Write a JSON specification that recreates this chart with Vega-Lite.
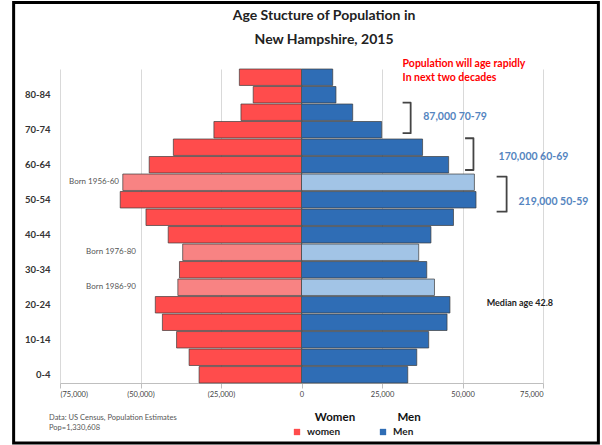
{
  "$schema": "https://vega.github.io/schema/vega-lite/v6.json",
  "width": 483,
  "height": 314,
  "autosize": "none",
  "padding": {"left": 60, "top": 69, "right": 59, "bottom": 62},
  "background": "white",
  "config": {"view": {"stroke": null}, "font": "Lato"},
  "datasets": {
    "bars": [
      {"age": "85+", "sex": "women", "series": "women", "value": -19300},
      {"age": "80-84", "sex": "women", "series": "women", "value": -15000},
      {"age": "75-79", "sex": "women", "series": "women", "value": -18800},
      {"age": "70-74", "sex": "women", "series": "women", "value": -27200},
      {"age": "65-69", "sex": "women", "series": "women", "value": -39800},
      {"age": "60-64", "sex": "women", "series": "women", "value": -47300},
      {"age": "55-59", "sex": "women", "series": "women born 1956-60", "value": -55500},
      {"age": "50-54", "sex": "women", "series": "women", "value": -56300},
      {"age": "45-49", "sex": "women", "series": "women", "value": -48300},
      {"age": "40-44", "sex": "women", "series": "women", "value": -41400},
      {"age": "35-39", "sex": "women", "series": "women born 1976-80", "value": -36900},
      {"age": "30-34", "sex": "women", "series": "women", "value": -37900},
      {"age": "25-29", "sex": "women", "series": "women born 1986-90", "value": -38400},
      {"age": "20-24", "sex": "women", "series": "women", "value": -45400},
      {"age": "15-19", "sex": "women", "series": "women", "value": -43200},
      {"age": "10-14", "sex": "women", "series": "women", "value": -38800},
      {"age": "5-9", "sex": "women", "series": "women", "value": -34900},
      {"age": "0-4", "sex": "women", "series": "women", "value": -31800},
      {"age": "85+", "sex": "Men", "series": "Men", "value": 9700},
      {"age": "80-84", "sex": "Men", "series": "Men", "value": 10700},
      {"age": "75-79", "sex": "Men", "series": "Men", "value": 15900},
      {"age": "70-74", "sex": "Men", "series": "Men", "value": 24900},
      {"age": "65-69", "sex": "Men", "series": "Men", "value": 37600},
      {"age": "60-64", "sex": "Men", "series": "Men", "value": 45700},
      {"age": "55-59", "sex": "Men", "series": "Men born 1956-60", "value": 53700},
      {"age": "50-54", "sex": "Men", "series": "Men", "value": 54200},
      {"age": "45-49", "sex": "Men", "series": "Men", "value": 47200},
      {"age": "40-44", "sex": "Men", "series": "Men", "value": 40200},
      {"age": "35-39", "sex": "Men", "series": "Men born 1976-80", "value": 36400},
      {"age": "30-34", "sex": "Men", "series": "Men", "value": 38900},
      {"age": "25-29", "sex": "Men", "series": "Men born 1986-90", "value": 41300},
      {"age": "20-24", "sex": "Men", "series": "Men", "value": 46100},
      {"age": "15-19", "sex": "Men", "series": "Men", "value": 45200},
      {"age": "10-14", "sex": "Men", "series": "Men", "value": 39500},
      {"age": "5-9", "sex": "Men", "series": "Men", "value": 35800},
      {"age": "0-4", "sex": "Men", "series": "Men", "value": 33000}
    ],
    "titleText": [
      {"text": "Age Stucture of Population in", "x": 7000, "y": 21.04},
      {"text": "New Hampshire, 2015", "x": 7000, "y": 19.66}
    ],
    "redNote": [
      {"text": "Population will age rapidly", "x": 31400, "y": 18.26},
      {"text": "In next two decades", "x": 31400, "y": 17.48}
    ],
    "blueNote": [
      {"text": "87,000 70-79", "x": 37800, "y": 15.23},
      {"text": "170,000 60-69", "x": 61200, "y": 12.97},
      {"text": "219,000 50-59", "x": 67400, "y": 10.39}
    ],
    "brackets": [
      {"id": "70-79", "order": 1, "x": 31400, "y": 16.07},
      {"id": "70-79", "order": 2, "x": 33900, "y": 16.07},
      {"id": "70-79", "order": 3, "x": 33900, "y": 14.32},
      {"id": "70-79", "order": 4, "x": 31400, "y": 14.32},
      {"id": "60-69", "order": 1, "x": 50800, "y": 14.03},
      {"id": "60-69", "order": 2, "x": 53400, "y": 14.03},
      {"id": "60-69", "order": 3, "x": 53400, "y": 12.21},
      {"id": "60-69", "order": 4, "x": 50800, "y": 12.21},
      {"id": "50-59", "order": 1, "x": 60600, "y": 11.83},
      {"id": "50-59", "order": 2, "x": 63700, "y": 11.83},
      {"id": "50-59", "order": 3, "x": 63700, "y": 9.82},
      {"id": "50-59", "order": 4, "x": 60600, "y": 9.82}
    ],
    "median": [{"text": "Median age 42.8", "x": 57500, "y": 4.57}],
    "born": [
      {"text": "Born 1956-60", "x": -56700, "y": 11.5},
      {"text": "Born 1976-80", "x": -51400, "y": 7.5},
      {"text": "Born 1986-90", "x": -51400, "y": 5.5}
    ],
    "footnote": [
      {"text": "Data: US Census, Population Estimates", "x": -78400, "y": -2.02},
      {"text": "Pop=1,330,608", "x": -78400, "y": -2.56}
    ],
    "legendHead": [
      {"text": "Women", "x": 10400, "y": -1.99},
      {"text": "Men", "x": 33400, "y": -2.0}
    ],
    "frame": [{"x": -89400, "x2": 92200, "y": 21.81, "y2": -3.44}],
    "zeroLine": [{"x": 0, "y": 0, "y2": 18}]
  },
  "layer": [
    {
      "data": {"name": "bars"},
      "mark": {"type": "bar", "stroke": "#3c3c3c", "strokeWidth": 0.7},
      "encoding": {
        "y": {
          "field": "age", "type": "nominal",
          "sort": ["85+","80-84","75-79","70-74","65-69","60-64","55-59","50-54","45-49","40-44","35-39","30-34","25-29","20-24","15-19","10-14","5-9","0-4"],
          "scale": {"paddingInner": 0.06, "paddingOuter": 0},
          "axis": {"title": null, "values": ["80-84","70-74","60-64","50-54","40-44","30-34","20-24","10-14","0-4"], "ticks": false, "domain": false, "labelPadding": 10, "labelFontSize": 9.5, "labelFontWeight": "bold", "labelColor": "#333", "labelFont": "Lato"}
        },
        "x": {
          "field": "value", "type": "quantitative",
          "scale": {"domain": [-75000, 75000], "nice": false},
          "axis": {"title": null, "values": [-75000,-50000,-25000,0,25000,50000,75000], "labelExpr": "datum.value < 0 ? '(' + format(-datum.value, ',') + ')' : format(datum.value, ',')", "grid": true, "gridColor": "#D9D9D9", "domain": true, "domainColor": "#BFBFBF", "ticks": true, "tickColor": "#BFBFBF", "tickSize": 5, "labelFontSize": 7.5, "labelColor": "#444", "labelPadding": 2, "labelFont": "Lato", "orient": "bottom"}
        },
        "color": {
          "field": "series", "type": "nominal",
          "scale": {
            "domain": ["women","Men","women born 1956-60","women born 1976-80","women born 1986-90","Men born 1956-60","Men born 1976-80","Men born 1986-90"],
            "range": ["#FF4C4C","#2F6DB5","#F88383","#F88383","#F88383","#A2C4E6","#A2C4E6","#A2C4E6"]
          },
          "legend": {"values": ["women","Men"], "orient": "none", "legendX": 232, "legendY": 358, "direction": "horizontal", "title": null, "columnPadding": 37, "symbolType": "square", "symbolSize": 40, "symbolStrokeWidth": 0, "labelFontSize": 10, "labelFontWeight": "bold", "labelFont": "Lato", "labelColor": "#222", "labelOffset": 5, "padding": 0}
        }
      }
    },
    {
      "layer": [
        {
          "data": {"name": "zeroLine"},
          "mark": {"type": "rule", "color": "#555", "strokeWidth": 1},
          "encoding": {
            "x": {"field": "x", "type": "quantitative", "scale": {"domain": [-75000, 75000], "nice": false}},
            "y": {"field": "y", "type": "quantitative", "scale": {"domain": [0, 18], "nice": false}, "axis": null},
            "y2": {"field": "y2"}
          }
        },
        {
          "data": {"name": "brackets"},
          "mark": {"type": "line", "color": "#444", "strokeWidth": 1.8, "strokeJoin": "round", "interpolate": "linear"},
          "encoding": {
            "x": {"field": "x", "type": "quantitative", "scale": {"domain": [-75000, 75000], "nice": false}},
            "y": {"field": "y", "type": "quantitative", "scale": {"domain": [0, 18], "nice": false}, "axis": null},
            "detail": {"field": "id"},
            "order": {"field": "order"}
          }
        },
        {
          "data": {"name": "frame"},
          "mark": {"type": "rect", "filled": false, "color": "#000", "strokeWidth": 3},
          "encoding": {
            "x": {"field": "x", "type": "quantitative", "scale": {"domain": [-75000, 75000], "nice": false}},
            "x2": {"field": "x2"},
            "y": {"field": "y", "type": "quantitative", "scale": {"domain": [0, 18], "nice": false}, "axis": null},
            "y2": {"field": "y2"}
          }
        },
        {
          "data": {"name": "titleText"},
          "mark": {"type": "text", "font": "Lato", "fontSize": 14, "fontWeight": "bold", "color": "#222", "baseline": "middle", "align": "center"},
          "encoding": {
            "x": {"field": "x", "type": "quantitative", "scale": {"domain": [-75000, 75000], "nice": false}},
            "y": {"field": "y", "type": "quantitative", "scale": {"domain": [0, 18], "nice": false}, "axis": null},
            "text": {"field": "text"}
          }
        },
        {
          "data": {"name": "redNote"},
          "mark": {"type": "text", "font": "Lato", "fontSize": 10.5, "fontWeight": "bold", "color": "#FF0000", "baseline": "middle", "align": "left"},
          "encoding": {
            "x": {"field": "x", "type": "quantitative", "scale": {"domain": [-75000, 75000], "nice": false}},
            "y": {"field": "y", "type": "quantitative", "scale": {"domain": [0, 18], "nice": false}, "axis": null},
            "text": {"field": "text"}
          }
        },
        {
          "data": {"name": "blueNote"},
          "mark": {"type": "text", "font": "Lato", "fontSize": 10.5, "fontWeight": "bold", "color": "#5585C0", "baseline": "middle", "align": "left"},
          "encoding": {
            "x": {"field": "x", "type": "quantitative", "scale": {"domain": [-75000, 75000], "nice": false}},
            "y": {"field": "y", "type": "quantitative", "scale": {"domain": [0, 18], "nice": false}, "axis": null},
            "text": {"field": "text"}
          }
        },
        {
          "data": {"name": "median"},
          "mark": {"type": "text", "font": "Lato", "fontSize": 9, "fontWeight": "bold", "color": "#222", "baseline": "middle", "align": "left"},
          "encoding": {
            "x": {"field": "x", "type": "quantitative", "scale": {"domain": [-75000, 75000], "nice": false}},
            "y": {"field": "y", "type": "quantitative", "scale": {"domain": [0, 18], "nice": false}, "axis": null},
            "text": {"field": "text"}
          }
        },
        {
          "data": {"name": "born"},
          "mark": {"type": "text", "font": "Lato", "fontSize": 8, "color": "#555", "baseline": "middle", "align": "right"},
          "encoding": {
            "x": {"field": "x", "type": "quantitative", "scale": {"domain": [-75000, 75000], "nice": false}},
            "y": {"field": "y", "type": "quantitative", "scale": {"domain": [0, 18], "nice": false}, "axis": null},
            "text": {"field": "text"}
          }
        },
        {
          "data": {"name": "footnote"},
          "mark": {"type": "text", "font": "Lato", "fontSize": 7.5, "color": "#555", "baseline": "middle", "align": "left"},
          "encoding": {
            "x": {"field": "x", "type": "quantitative", "scale": {"domain": [-75000, 75000], "nice": false}},
            "y": {"field": "y", "type": "quantitative", "scale": {"domain": [0, 18], "nice": false}, "axis": null},
            "text": {"field": "text"}
          }
        },
        {
          "data": {"name": "legendHead"},
          "mark": {"type": "text", "font": "Lato", "fontSize": 11.5, "fontWeight": "bold", "color": "#111", "baseline": "middle", "align": "center"},
          "encoding": {
            "x": {"field": "x", "type": "quantitative", "scale": {"domain": [-75000, 75000], "nice": false}},
            "y": {"field": "y", "type": "quantitative", "scale": {"domain": [0, 18], "nice": false}, "axis": null},
            "text": {"field": "text"}
          }
        }
      ]
    }
  ],
  "resolve": {"scale": {"y": "independent"}}
}
